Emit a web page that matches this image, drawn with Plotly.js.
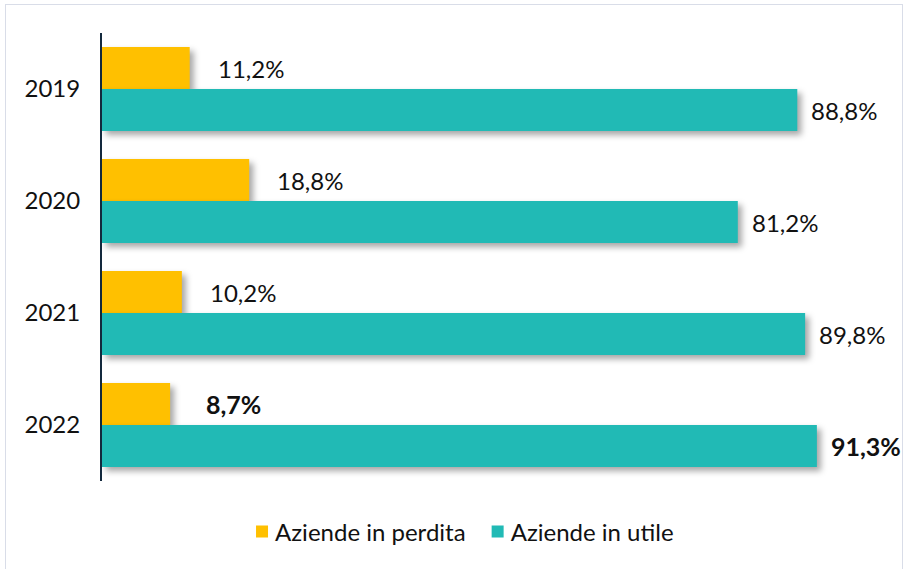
<!DOCTYPE html>
<html><head><meta charset="utf-8">
<script src="https://cdn.plot.ly/plotly-3.0.1.min.js"></script>
<style>
body{margin:0;padding:0;background:#fff;}
#frame{position:absolute;left:5px;top:4px;width:898px;height:580px;border:1px solid #d9dde8;box-sizing:border-box;pointer-events:none;z-index:5;}
#chart{width:905px;height:569px;}
</style></head>
<body>
<div id="chart"></div>
<div id="frame"></div>
<script>
const years = ['2019','2020','2021','2022'];
const perdita = [11.2, 18.8, 10.2, 8.7];
const utile = [88.8, 81.2, 89.8, 91.3];
const perditaLabels = ['11,2%','18,8%','10,2%','8,7%'];
const utileLabels = ['88,8%','81,2%','89,8%','91,3%'];
const boldYear = '2022';

const font = 'Lato, "Noto Sans", sans-serif';
const fs = 24;
const annotations = [];
years.forEach((y,i)=>{
  const b = y===boldYear;
  annotations.push({x:perdita[i], y:y, xref:'x', yref:'y', text: b?'<b>'+perditaLabels[i]+'</b>':perditaLabels[i],
    showarrow:false, xanchor:'left', yanchor:'middle', xshift:b?34:26, yshift:21,
    font:{family:font,size:b?25:fs,color:'#111'}});
  annotations.push({x:utile[i], y:y, xref:'x', yref:'y', text: b?'<b>'+utileLabels[i]+'</b>':utileLabels[i],
    showarrow:false, xanchor:'left', yanchor:'middle', xshift:12, yshift:-21,
    font:{family:font,size:b?25:fs,color:'#111'}});
});

const data = [
  {type:'bar', orientation:'h', name:'Aziende in perdita', y:years, x:perdita, marker:{color:'#FFC000'}, hoverinfo:'none'},
  {type:'bar', orientation:'h', name:'Aziende in utile', y:years, x:utile, marker:{color:'#21BAB5'}, hoverinfo:'none'}
];
const layout = {
  width:905, height:569,
  margin:{l:102, r:20, t:33, b:88},
  barmode:'group', bargap:0.25, bargroupgap:0,
  paper_bgcolor:'#fff', plot_bgcolor:'#fff',
  font:{family:font, size:fs, color:'#111'},
  xaxis:{range:[0,100], showgrid:false, zeroline:false, showticklabels:false, showline:false, fixedrange:true},
  yaxis:{autorange:'reversed', showgrid:false, zeroline:false, showline:true, linecolor:'#13293d', linewidth:2,
    ticks:'', ticklabelstandoff:15, tickfont:{family:font,size:fs,color:'#111'}},
  showlegend:true,
  legend:{orientation:'h', xref:'container', yref:'container', x:0.505, xanchor:'center', y:0.065, yanchor:'middle',
    font:{family:font,size:fs,color:'#111'}, itemwidth:30, traceorder:'normal'},
  annotations:annotations
};
Plotly.newPlot('chart', data, layout, {displayModeBar:false, staticPlot:true}).then(()=>{
  document.querySelectorAll('.barlayer .point path').forEach(p=>{
    p.style.filter='drop-shadow(4px 4px 3px rgba(0,0,0,0.35))';
  });
  document.querySelectorAll('.legend .legendpoints').forEach(g=>{
    g.setAttribute('transform','translate(7,0)');
  });
});
</script>
</body></html>
